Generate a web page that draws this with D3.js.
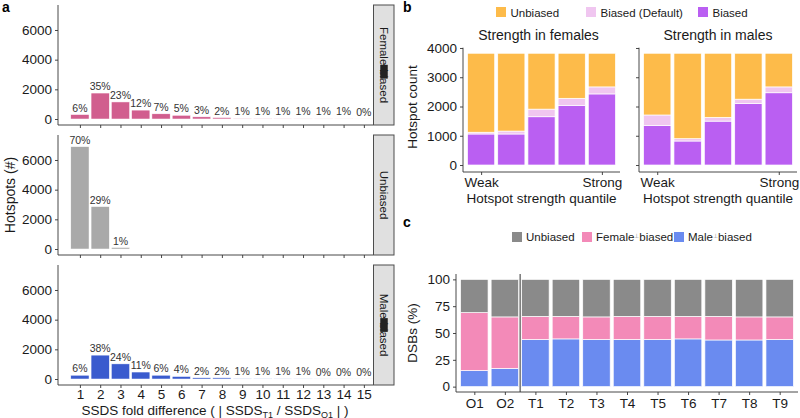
<!DOCTYPE html>
<html><head><meta charset="utf-8">
<script src="https://cdn.jsdelivr.net/npm/d3@7/dist/d3.min.js"></script>
<style>
body{margin:0;background:#fff;}
svg{display:block;font-family:"Liberation Sans",Arial,sans-serif;}
</style></head>
<body><svg id="chart" width="800" height="418"></svg>
<script>
// ---------- Panel a data ----------
const foldLevels = [1,2,3,4,5,6,7,8,9,10,11,12,13,14,15];
const femaleCounts = [300,1750,1150,600,350,250,150,100,50,50,50,50,50,50,10];
const femalePct = ["6%","35%","23%","12%","7%","5%","3%","2%","1%","1%","1%","1%","1%","1%","0%"];
const unbiasedCounts = [6900,2860,100];
const unbiasedPct = ["70%","29%","1%"];
const maleCounts = [255,1610,1020,470,255,170,85,85,42,42,42,42,15,15,15];
const malePct = ["6%","38%","24%","11%","6%","4%","2%","2%","1%","1%","1%","1%","0%","0%","0%"];
const barAlpha = [1,1,1,1,1,1,0.95,0.85,0.7,0.6,0.5,0.42,0.35,0.28,0.22];
const facetNames = ["Female-biased","Unbiased","Male-biased"];
const countTicks = [0,2000,4000,6000];

// ---------- Panel b data ----------
const quantiles = [1,2,3,4,5];
const quantileLabels = {1:"Weak",5:"Strong"};
const femBiased = [1060,1060,1650,2040,2430];
const femDefault = [60,100,260,240,240];
const femUnbiased = [2700,2660,1910,1540,1150];
const maleBiased = [1350,820,1500,2100,2470];
const maleDefault = [360,80,130,150,200];
const maleUnbiased = [2110,2920,2190,1570,1150];
const bLegend = ["Unbiased","Biased (Default)","Biased"];
const bTicks = [0,1000,2000,3000,4000];

// ---------- Panel c data ----------
const samples = ["O1","O2","T1","T2","T3","T4","T5","T6","T7","T8","T9"];
const cMale = [15,17,44,44.5,44,44,44,44.5,43.5,43.5,44];
const cFemale = [54,48,21.5,21,21,21.5,21.5,21,22,21.5,21];
const cUnbiased = [31,35,34.5,34.5,35,34.5,34.5,34.5,34.5,35,35];
const cTicks = [0,25,50,75,100];

const svg = d3.select("#chart");
const axisCol = "#333";
const txtCol = "#1a1a1a";

function styleAxis(g){
  g.selectAll(".domain").attr("stroke",axisCol).attr("stroke-width",0.9);
  g.selectAll(".tick line").attr("stroke",axisCol).attr("stroke-width",0.9);
  g.selectAll(".tick text").attr("fill",txtCol).style("font-family","Liberation Sans, Arial, sans-serif");
}

// ================= Panel a =================
const aLeft = 58, aRight = 373;
const xa = d3.scaleLinear().domain([-0.08,15.45]).range([aLeft,aRight]);
const step = xa(2)-xa(1);
const bw = step*0.9;
const facetTops = [5,135,265];
const facetH = 120;
const facetData = [
  {counts:femaleCounts, pct:femalePct, color:"#D15E8E"},
  {counts:unbiasedCounts, pct:unbiasedPct, color:"#A9A9A9"},
  {counts:maleCounts, pct:malePct, color:"#3A5BCE"}
];
facetData.forEach((fd,fi)=>{
  const top = facetTops[fi];
  const ya = d3.scaleLinear().domain([-404,7685]).range([top+facetH, top]);
  const g = svg.append("g");
  const rows = fd.counts.map((c,i)=>({x:foldLevels[i], c, p:fd.pct[i], a: fi===1?1:barAlpha[i]}));
  g.selectAll("rect.bar").data(rows).enter().append("rect")
    .attr("x",d=>xa(d.x)-bw/2).attr("width",bw)
    .attr("y",d=>ya(d.c)).attr("height",d=>ya(0)-ya(d.c))
    .attr("fill",fd.color).attr("fill-opacity",d=>d.a)
    .attr("stroke","#fff").attr("stroke-width",0.5);
  g.selectAll("text.lab").data(rows).enter().append("text")
    .attr("x",d=>xa(d.x)).attr("y",d=>ya(d.c)-3)
    .attr("text-anchor","middle").attr("font-size",10.5).attr("fill","#333")
    .text(d=>d.p);
  // y axis
  const yg = g.append("g").attr("transform",`translate(${aLeft},0)`)
    .call(d3.axisLeft(ya).tickValues(countTicks).tickSize(3).tickPadding(3).tickFormat(d3.format("d")));
  yg.selectAll(".tick text").attr("font-size",13.5);
  yg.select(".domain").attr("d",`M0,${top}V${top+facetH}`);
  styleAxis(yg);
  // x axis
  const xg = g.append("g").attr("transform",`translate(0,${top+facetH})`)
    .call(d3.axisBottom(xa).tickValues(foldLevels).tickSize(3).tickPadding(1.5).tickFormat(fi===2?d3.format("d"):()=>""));
  xg.select(".domain").attr("d",`M${aLeft},0H${aRight}`);
  xg.selectAll(".tick text").attr("font-size",13.5);
  styleAxis(xg);
  // strip
  const sx = 373.5, sw = 20.5;
  g.append("rect").attr("x",sx).attr("y",top).attr("width",sw).attr("height",facetH)
    .attr("fill","#E0E0E0").attr("stroke","#4d4d4d").attr("stroke-width",1);
  const cx = sx+sw/2, cy = top+facetH/2;
  const st = g.append("text").attr("transform",`translate(${cx},${cy}) rotate(90)`)
    .attr("text-anchor","middle").attr("dy","0.35em").attr("font-size",11.5).attr("fill",txtCol)
    .text(facetNames[fi]);
  if(fi!==1){
    const node = st.node();
    const L = node.getComputedTextLength();
    const name = facetNames[fi];
    const hi = name.indexOf("-");
    const pre = node.getSubStringLength(0,hi);
    const mid = node.getSubStringLength(hi,3);
    g.append("rect").attr("x",cx-3.5).attr("width",7.5)
      .attr("y",cy-L/2+pre-0.5).attr("height",mid+1).attr("fill","#222");
  }
});
svg.append("text").attr("transform","translate(15,195) rotate(-90)").attr("text-anchor","middle")
  .attr("font-size",14).attr("fill",txtCol).text("Hotspots (#)");
const xt = svg.append("text").attr("x",215).attr("y",415).attr("text-anchor","middle")
  .attr("font-size",13.5).attr("fill",txtCol);
xt.append("tspan").text("SSDS fold difference ( | SSDS");
xt.append("tspan").attr("font-size",9).attr("dy",2.5).text("T1");
xt.append("tspan").attr("dy",-2.5).text(" / SSDS");
xt.append("tspan").attr("font-size",9).attr("dy",2.5).text("O1");
xt.append("tspan").attr("dy",-2.5).text(" | )");

// ================= Panel b =================
const bColors = {"Unbiased":"#FDBB4A","Biased (Default)":"#F0C6F0","Biased":"#BA5FF2"};
const yb = d3.scaleLinear().domain([-239,4010]).range([172,47.7]);
const bFacets = [
  {title:"Strength in females", left:463, right:620, b:femBiased, d:femDefault, u:femUnbiased, labels:true},
  {title:"Strength in males", left:639, right:797, b:maleBiased, d:maleDefault, u:maleUnbiased, labels:false}
];
bFacets.forEach(f=>{
  const xb = d3.scaleLinear().domain([0.4,5.6]).range([f.left,f.right]);
  const w = (xb(2)-xb(1))*0.9;
  const g = svg.append("g");
  const rows = quantiles.map((q,i)=>({q, b:f.b[i], d:f.d[i], u:f.u[i]}));
  const stack = d3.stack().keys(["b","d","u"])(rows);
  const keyName = {b:"Biased",d:"Biased (Default)",u:"Unbiased"};
  stack.forEach(s=>{
    g.selectAll(null).data(s).enter().append("rect")
      .attr("x",d=>xb(d.data.q)-w/2).attr("width",w)
      .attr("y",d=>yb(d[1])).attr("height",d=>yb(d[0])-yb(d[1]))
      .attr("fill",bColors[keyName[s.key]]).attr("stroke","#fff").attr("stroke-width",0.7);
  });
  const yg = g.append("g").attr("transform",`translate(${f.left},0)`)
    .call(d3.axisLeft(yb).tickValues(bTicks).tickSize(3).tickPadding(3).tickFormat(f.labels?d3.format("d"):()=>""));
  yg.select(".domain").attr("d",`M0,${yb.range()[1]}V${yb.range()[0]}`);
  yg.selectAll(".tick text").attr("font-size",13.5);
  styleAxis(yg);
  const xg = g.append("g").attr("transform",`translate(0,172)`)
    .call(d3.axisBottom(xb).tickValues([1,5]).tickSize(3).tickPadding(2).tickFormat(d=>quantileLabels[d]));
  xg.select(".domain").attr("d",`M${f.left},0H${f.right}`);
  xg.selectAll(".tick text").attr("font-size",13.5);
  styleAxis(xg);
  g.append("text").attr("x",(f.left+f.right)/2+ (f.labels?-3:0)).attr("y",40).attr("text-anchor","middle")
    .attr("font-size",14).attr("fill",txtCol).text(f.title);
  g.append("text").attr("x",(f.left+f.right)/2).attr("y",203).attr("text-anchor","middle")
    .attr("font-size",13.5).attr("fill",txtCol).text("Hotspot strength quantile");
});
svg.append("text").attr("transform","translate(417,107) rotate(-90)").attr("text-anchor","middle")
  .attr("font-size",13.5).attr("fill",txtCol).text("Hotspot count");
const bLegX = [496,586,698];
bLegend.forEach((k,i)=>{
  svg.append("rect").attr("x",bLegX[i]).attr("y",7).attr("width",10).attr("height",10).attr("fill",bColors[k]);
  svg.append("text").attr("x",bLegX[i]+14.5).attr("y",16.5).attr("font-size",11.5).attr("fill",txtCol).text(k);
});

// ================= Panel c =================
const cColors = {u:"#8A8A8A", f:"#F38AB8", m:"#6A8BF0"};
const xc = d3.scaleLinear().domain([0.4,11.6]).range([456,798]);
const yc = d3.scaleLinear().domain([-5,105]).range([392,274]);
const cw = (xc(2)-xc(1))*0.9;
const cRows = samples.map((s,i)=>({i:i+1, s, m:cMale[i], f:cFemale[i], u:cUnbiased[i]}));
const cStack = d3.stack().keys(["m","f","u"])(cRows);
const gc = svg.append("g");
cStack.forEach(s=>{
  gc.selectAll(null).data(s).enter().append("rect")
    .attr("x",d=>xc(d.data.i)-cw/2).attr("width",cw)
    .attr("y",d=>yc(d[1])).attr("height",d=>yc(d[0])-yc(d[1]))
    .attr("fill",cColors[s.key]).attr("stroke","#fff").attr("stroke-width",0.7);
});
gc.append("line").attr("x1",xc(2.5)).attr("x2",xc(2.5)).attr("y1",274).attr("y2",392)
  .attr("stroke","#444").attr("stroke-width",1.1);
const ycg = gc.append("g").attr("transform","translate(456,0)")
  .call(d3.axisLeft(yc).tickValues(cTicks).tickSize(3).tickPadding(3));
ycg.select(".domain").attr("d","M0,274V392");
ycg.selectAll(".tick text").attr("font-size",13.5);
styleAxis(ycg);
const xcg = gc.append("g").attr("transform","translate(0,392)")
  .call(d3.axisBottom(xc).tickValues(cRows.map(d=>d.i)).tickSize(3).tickPadding(3).tickFormat(d=>samples[d-1]));
xcg.select(".domain").attr("d","M456,0H798");
xcg.selectAll(".tick text").attr("font-size",13.5);
styleAxis(xcg);
svg.append("text").attr("transform","translate(417,333) rotate(-90)").attr("text-anchor","middle")
  .attr("font-size",13.5).attr("fill",txtCol).text("DSBs (%)");
const cLeg = [
  {k:"u", x:512, parts:["Unbiased"]},
  {k:"f", x:582, parts:["Female","biased"]},
  {k:"m", x:674, parts:["Male","biased"]}
];
cLeg.forEach(l=>{
  svg.append("rect").attr("x",l.x).attr("y",232).attr("width",10).attr("height",10).attr("fill",cColors[l.k]);
  const t = svg.append("text").attr("x",l.x+14).attr("y",241).attr("font-size",11.5).attr("fill",txtCol);
  t.append("tspan").text(l.parts[0]);
  if(l.parts.length>1){
    t.append("tspan").attr("font-size",6).attr("dy",-3).attr("fill","#888").text("⊥");
    t.append("tspan").attr("dy",3).text(l.parts[1]);
  }
});

// panel letters
[["a",2,12],["b",403,12],["c",403,227]].forEach(([s,x,y])=>{
  svg.append("text").attr("x",x).attr("y",y).attr("font-size",14).attr("font-weight","bold").attr("fill","#000").text(s);
});
</script>
</body></html>
